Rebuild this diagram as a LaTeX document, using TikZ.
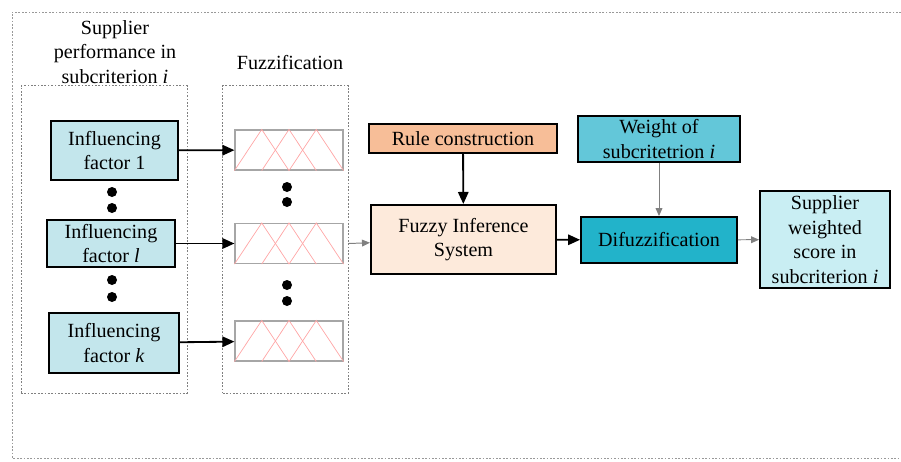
\documentclass[tikz,border=0pt]{standalone}
\usepackage{fontspec}
\setmainfont{Liberation Serif}
\usetikzlibrary{arrows.meta,calc}

\definecolor{factorblue}{HTML}{C3E6EC}
\definecolor{rulepeach}{HTML}{F7BE98}
\definecolor{fispeach}{HTML}{FDEADB}
\definecolor{weightblue}{HTML}{63C7D9}
\definecolor{difuzzblue}{HTML}{22B3CA}
\definecolor{scoreblue}{HTML}{C9EEF3}

\tikzset{
  box/.style={draw, line width=1.3pt, align=center, inner sep=0pt},
  mfbox/.style={draw=gray!70, line width=0.8pt, minimum width=2.7cm, minimum height=1cm, inner sep=0pt},
  mf/.style={draw=red!35, line width=0.5pt},
  group/.style={draw=gray, dash pattern=on 1.2pt off 1.2pt, line width=0.6pt, minimum width=#1, minimum height=7.68cm, inner sep=0pt},
  dot/.style={circle, fill=black, minimum size=0.25cm, inner sep=0pt},
  thickarrow/.style={line width=1.3pt, -{Triangle[length=0.3cm, width=0.26cm]}},
  thinarrow/.style={draw=gray, line width=0.7pt, -{Triangle[length=0.2cm, width=0.17cm]}},
}

\begin{document}
\begin{tikzpicture}[x=0.025cm, y=-0.025cm, font=\fontsize{14.3}{17.6}\selectfont]
\useasboundingbox (0,0) rectangle (901,461);
% outer frame (open at the right)
\draw[draw=gray!80, dash pattern=on 1.2pt off 1.2pt, line width=0.6pt] (901,12) -| (12,458) -- (901,458);

% groups
\node[group=4.15cm] (leftgroup) at (104,239.5) {};
\node[group=3.13cm] (fuzzgroup) at (285.5,239.5) {};
\node[align=center] (lefttitle) at (115,52) {Supplier\\performance in\\subcriterion \textit{i}};
\node (fuzztitle) at (290,63) {Fuzzification};

% influencing factors
\node[box, fill=factorblue, minimum width=3.18cm, minimum height=1.48cm] (f1) at (114.5,150.5) {Influencing\\factor 1};
\node[box, fill=factorblue, minimum width=3.2cm, minimum height=1.18cm] (fl) at (111,243.5) {Influencing\\factor \textit{l}};
\node[box, fill=factorblue, minimum width=3.25cm, minimum height=1.5cm] (fk) at (114,343) {Influencing\\factor \textit{k}};
\node[dot] (d1) at (112,192) {};
\node[dot] (d2) at (112,208) {};
\node[dot] (d3) at (112,280) {};
\node[dot] (d4) at (112,297) {};

% membership functions
\node[mfbox] (m1) at (289,150) {};
\node[mfbox] (m2) at (289,243.5) {};
\node[mfbox] (m3) at (289,341) {};
\foreach \m in {m1,m2,m3}{
  \draw[mf] (\m.south west) -- ($(\m.north west)!0.25!(\m.north east)$) -- ($(\m.south west)!0.5!(\m.south east)$);
  \draw[mf] ($(\m.south west)!0.25!(\m.south east)$) -- ($(\m.north west)!0.5!(\m.north east)$) -- ($(\m.south west)!0.75!(\m.south east)$);
  \draw[mf] ($(\m.south west)!0.5!(\m.south east)$) -- ($(\m.north west)!0.75!(\m.north east)$) -- (\m.south east);
}
\node[dot] (d5) at (287,187) {};
\node[dot] (d6) at (287,202) {};
\node[dot] (d7) at (287,285) {};
\node[dot] (d8) at (287,301) {};

% inference and output
\node[box, fill=rulepeach, minimum width=4.7cm, minimum height=0.73cm] (rule) at (463,138.5) {Rule construction};
\node[box, fill=fispeach, minimum width=4.63cm, minimum height=1.73cm] (fis) at (463.5,239.5) {Fuzzy Inference\\System};
\node[box, fill=weightblue, minimum width=4.05cm, minimum height=1.15cm] (weight) at (659,139) {Weight of\\subcritetrion \textit{i}};
\node[box, fill=difuzzblue, minimum width=3.9cm, minimum height=1.15cm] (difuzz) at (659,240) {Difuzzification};
\node[box, fill=scoreblue, minimum width=3.25cm, minimum height=2.43cm] (score) at (825,239.5) {Supplier\\weighted\\score in\\subcriterion \textit{i}};

% connectors
\draw[thickarrow] (f1) -- (m1);
\draw[thickarrow] (fl) -- (m2);
\draw[thickarrow] (fk) -- (m3);
\draw[thinarrow] (fuzzgroup.east |- m2) -- (fis);
\draw[thickarrow] (rule) -- (fis);
\draw[thickarrow] (fis) -- (difuzz);
\draw[thinarrow] (weight) -- (difuzz);
\draw[thinarrow] (difuzz) -- (score);
\end{tikzpicture}
\end{document}
